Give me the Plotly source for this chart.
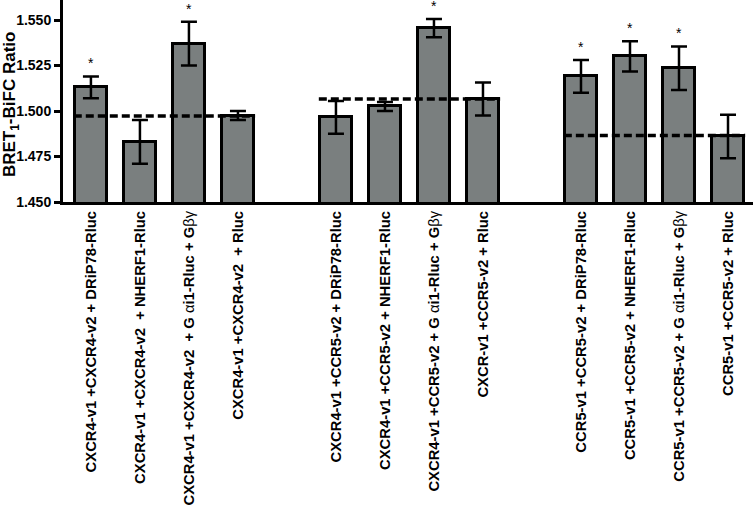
import plotly.graph_objects as go

# ---- data ----
ga = '<span style="font-weight:normal">α</span>'
gbg = '<span style="font-weight:normal">βγ</span>'
labels = [
    "CXCR4-v1 +CXCR4-v2 + DRiP78-Rluc",
    "CXCR4-v1 +CXCR4-v2  + NHERF1-Rluc",
    f"CXCR4-v1 +CXCR4-v2  + G {ga}i1-Rluc + G{gbg}",
    "CXCR4-v1 +CXCR4-v2  + Rluc",
    "CXCR4-v1 +CCR5-v2 + DRiP78-Rluc",
    "CXCR4-v1 +CCR5-v2 + NHERF1-Rluc",
    f"CXCR4-v1 +CCR5-v2 + G {ga}i1-Rluc + G{gbg}",
    "CXCR-v1 +CCR5-v2 + Rluc",
    "CCR5-v1 +CCR5-v2 + DRiP78-Rluc",
    "CCR5-v1 +CCR5-v2 + NHERF1-Rluc",
    f"CCR5-v1 +CCR5-v2 + G {ga}i1-Rluc + G{gbg}",
    "CCR5-v1 +CCR5-v2 + Rluc",
]
group_index = [0, 0, 0, 0, 1, 1, 1, 1, 2, 2, 2, 2]
slot_in_group = [0, 1, 2, 3, 0, 1, 2, 3, 0, 1, 2, 3]
values = [1.513, 1.483, 1.537, 1.4975, 1.4965, 1.5025, 1.5455, 1.5066, 1.519, 1.530, 1.5235, 1.486]
errors = [0.006, 0.012, 0.012, 0.0025, 0.009, 0.0025, 0.005, 0.009, 0.009, 0.0083, 0.012, 0.012]
significant = [1, 0, 1, 0, 0, 0, 1, 0, 1, 1, 1, 0]
control_levels = [1.4972, 1.5066, 1.4866]
y_ticks = [1.450, 1.475, 1.500, 1.525, 1.550]
y_title = "BRET<sub>1</sub>-BiFC Ratio"

# ---- positions ----
GROUP_STRIDE = 5
xpos = [g * GROUP_STRIDE + s for g, s in zip(group_index, slot_in_group)]
BAR_W = 0.64

FONT = "Liberation Sans, Arial, sans-serif"

fig = go.Figure()
fig.add_trace(go.Bar(
    x=xpos, y=values, width=BAR_W,
    marker=dict(color="#7a7f7f", line=dict(color="black", width=3)),
    error_y=dict(type="data", array=errors, visible=True, color="black",
                 thickness=2.5, width=8),
    showlegend=False, hoverinfo="skip",
))

for g, lvl in enumerate(control_levels):
    gx = [x for x, gi in zip(xpos, group_index) if gi == g]
    fig.add_trace(go.Scatter(
        x=[min(gx) - BAR_W / 2 - 0.03, max(gx) + BAR_W / 2 + 0.03], y=[lvl, lvl],
        mode="lines", line=dict(color="black", width=3.5, dash="8px,4px"),
        showlegend=False, cliponaxis=False, hoverinfo="skip",
    ))

for x, v, e, s in zip(xpos, values, errors, significant):
    if s:
        fig.add_annotation(x=x, y=v + e, text="*", showarrow=False,
                           yanchor="bottom", yshift=3,
                           font=dict(family=FONT, size=14, color="black"))

# y-axis title as an annotation for exact placement
fig.add_annotation(xref="paper", yref="paper", x=0, y=0.48, xshift=-52,
                   text=y_title, textangle=-90, showarrow=False,
                   xanchor="center", yanchor="middle",
                   font=dict(family=FONT, size=17, color="black", weight="bold"))

fig.update_layout(
    width=755, height=508,
    margin=dict(l=63, r=2, t=0, b=306),
    plot_bgcolor="white", paper_bgcolor="white",
    font=dict(family=FONT, color="black"),
    bargap=0,
)
fig.update_xaxes(
    range=[-0.57, 13.51], tickmode="array", tickvals=xpos, ticktext=labels,
    tickangle=-90, showline=True, linecolor="black", linewidth=3,
    ticks="", showgrid=False, zeroline=False, automargin=False,
    tickfont=dict(family=FONT, size=14.8, color="black", weight="bold"),
)
fig.update_yaxes(
    range=[1.450, 1.561], tickmode="array", tickvals=y_ticks,
    ticktext=[f"{t:.3f}" for t in y_ticks],
    showline=True, linecolor="black", linewidth=3,
    ticks="outside", ticklen=6, tickwidth=3, tickcolor="black",
    showgrid=False, zeroline=False, automargin=False,
    tickfont=dict(family=FONT, size=14, color="black", weight="bold"),
)

fig.write_html("out.html", config={"displayModeBar": False},
               post_script="document.body.style.margin='0';")
